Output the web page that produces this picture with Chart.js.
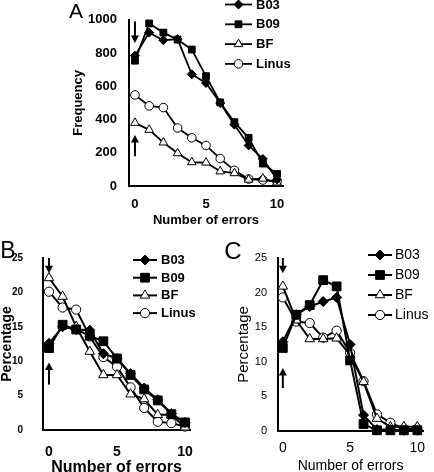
<!DOCTYPE html>
<html><head><meta charset="utf-8">
<script src="https://cdn.jsdelivr.net/npm/chart.js@4/dist/chart.umd.min.js"></script>
<style>
html,body{margin:0;padding:0;background:#fff;overflow:hidden;width:434px;height:472px;position:relative;}
canvas{position:absolute;}
</style></head><body>
<canvas id="ca"></canvas>
<canvas id="cb"></canvas>
<canvas id="cc"></canvas>
<script>
// ---- data ----
const errors = [0, 1, 2, 3, 4, 5, 6, 7, 8, 9, 10];
const seriesNames = ['B03', 'B09', 'BF', 'Linus'];
const xTickValues = [0, 5, 10];
const freqTicks = [0, 200, 400, 600, 800, 1000];
const pctTicks = [0, 5, 10, 15, 20, 25];

// Panel A: frequency
const freqB03 = [784, 923, 877, 884, 672, 620, 499, 369, 244, 163, 40];
const freqB09 = [754, 978, 923, 881, 821, 661, 503, 384, 290, 135, 73];
const freqBF = [380, 338, 262, 197, 143, 141, 88, 77, 38, 44, 21];
const freqLinus = [548, 482, 472, 349, 290, 244, 165, 94, 42, 36, 27];

// Panel B: percentage
const pctB_B03 = [12.6, 15.0, 14.6, 14.5, 11.1, 10.4, 8.2, 6.1, 4.4, 2.4, 1.1];
const pctB_B09 = [11.9, 15.3, 14.6, 13.7, 12.9, 10.4, 8.0, 5.9, 4.3, 2.3, 1.1];
const pctB_BF = [22.1, 19.4, 15.0, 11.4, 8.0, 8.0, 5.2, 4.5, 2.2, 2.2, 0.4];
const pctB_Linus = [20.1, 17.8, 17.5, 13.6, 10.6, 9.2, 6.2, 3.2, 1.2, 1.0, 0.5];

// Panel C: percentage
const pctC_B03 = [12.9, 16.8, 18.0, 18.7, 19.3, 12.5, 2.3, 0.2, 0.2, 0.1, 0.1];
const pctC_B09 = [12.0, 16.8, 18.2, 21.8, 20.9, 10.2, 1.0, 0.1, 0.1, 0.1, 0.1];
const pctC_BF = [20.9, 16.0, 13.3, 13.3, 13.4, 11.0, 7.1, 1.8, 0.6, 0.6, 0.6];
const pctC_Linus = [19.3, 15.8, 15.6, 13.5, 14.5, 11.3, 7.2, 2.4, 1.2, 0.3, 0.3];

// arrows: [from, to] in y-axis units, drawn at x = 0
const arrowsA = [[990, 860], [179, 307]];
const arrowsB = [[25, 22.8], [6.6, 9.8]];
const arrowsC = [[25, 22.8], [6.2, 9.1]];

// ---- styling ----
const FAM = "'Liberation Sans', Arial, Helvetica, sans-serif";
const seriesStyles = [
  {pointStyle: 'rectRot', fill: '#000'},
  {pointStyle: 'rect', fill: '#000'},
  {pointStyle: 'triangle', fill: '#fff'},
  {pointStyle: 'circle', fill: '#fff'}
];

function drawMarker(ctx, style, r, x, y) {
  ctx.beginPath();
  if (style === 'rectRot') {
    ctx.moveTo(x - r, y); ctx.lineTo(x, y - r); ctx.lineTo(x + r, y); ctx.lineTo(x, y + r); ctx.closePath();
  } else if (style === 'rect') {
    const s = Math.SQRT1_2 * r; ctx.rect(x - s, y - s, 2 * s, 2 * s);
  } else if (style === 'triangle') {
    let rad = 0;
    ctx.moveTo(x + Math.sin(rad) * r, y - Math.cos(rad) * r);
    rad += 2 * Math.PI / 3;
    ctx.lineTo(x + Math.sin(rad) * r, y - Math.cos(rad) * r);
    rad += 2 * Math.PI / 3;
    ctx.lineTo(x + Math.sin(rad) * r, y - Math.cos(rad) * r);
    ctx.closePath();
  } else {
    ctx.arc(x, y, r, 0, Math.PI * 2);
  }
  ctx.fill(); ctx.stroke();
}

function drawArrow(ctx, x, y0, y1) {
  const dir = y1 > y0 ? 1 : -1;
  const head = 7.5, hw = 4;
  ctx.strokeStyle = '#000'; ctx.fillStyle = '#000'; ctx.lineWidth = 2;
  ctx.beginPath(); ctx.moveTo(x, y0); ctx.lineTo(x, y1 - dir * head + dir); ctx.stroke();
  ctx.beginPath(); ctx.moveTo(x, y1); ctx.lineTo(x - hw, y1 - dir * head); ctx.lineTo(x + hw, y1 - dir * head); ctx.closePath(); ctx.fill();
}

const decorPlugin = {
  id: 'decor',
  afterDraw(chart, args, o) {
    const ctx = chart.ctx, xs = chart.scales.x, ys = chart.scales.y;
    ctx.save();
    ctx.fillStyle = '#000';
    ctx.font = o.letterFont; ctx.textAlign = 'center'; ctx.textBaseline = 'middle';
    ctx.fillText(o.letter, o.letterX, o.letterY);
    const ax = xs.getPixelForValue(0);
    o.arrows.forEach(a => drawArrow(ctx, ax, ys.getPixelForValue(a[0]), ys.getPixelForValue(a[1])));
    chart.data.datasets.forEach((ds, i) => {
      const y = o.legY + i * o.legGap;
      ctx.strokeStyle = '#000'; ctx.lineWidth = ds.borderWidth;
      ctx.beginPath(); ctx.moveTo(o.legX, y); ctx.lineTo(o.legX + o.legLen, y); ctx.stroke();
      ctx.lineWidth = 1; ctx.fillStyle = ds.pointBackgroundColor;
      drawMarker(ctx, ds.pointStyle, ds.pointRadius, o.legX + o.legLen / 2, y);
      ctx.fillStyle = '#000'; ctx.font = o.legFont; ctx.textAlign = 'left'; ctx.textBaseline = 'middle';
      ctx.fillText(ds.label, o.legX + o.legLen + o.legTextGap, y + 0.5);
    });
    ctx.restore();
  }
};

function makeChart(id, p) {
  const cv = document.getElementById(id);
  const W = p.canvas.w, H = p.canvas.h;
  cv.width = W; cv.height = H;
  cv.style.width = W + 'px'; cv.style.height = H + 'px';
  cv.style.left = p.canvas.x + 'px'; cv.style.top = p.canvas.y + 'px';
  const L = p.area.left - p.canvas.x, R = p.area.right - p.canvas.x;
  const T = p.area.top - p.canvas.y, B = p.area.bottom - p.canvas.y;
  const datasets = p.series.map((vals, i) => ({
    label: seriesNames[i],
    data: errors.map((e, j) => ({x: e, y: vals[j]})),
    borderColor: '#000', borderWidth: p.lineWidth,
    pointStyle: seriesStyles[i].pointStyle,
    pointRadius: p.radii[i], pointHoverRadius: p.radii[i],
    pointBackgroundColor: seriesStyles[i].fill, pointBorderColor: '#000', pointBorderWidth: 1,
    tension: 0, fill: false, clip: false
  }));
  return new Chart(cv, {
    type: 'line',
    data: {datasets},
    options: {
      responsive: false, animation: false, events: [],
      layout: {padding: {left: 0, top: T, right: W - R, bottom: 0}},
      plugins: {legend: {display: false}, tooltip: {enabled: false}, decor: p.decor},
      scales: {
        x: {
          type: 'linear', min: p.xmin, max: p.xmax,
          afterBuildTicks: s => { s.ticks = xTickValues.map(v => ({value: v})); },
          afterFit: s => { s.height = H - B; },
          grid: {display: false, drawTicks: false},
          border: {display: true, color: '#000', width: 2},
          ticks: {padding: p.xTickPad, color: '#000', font: p.xTickFont, maxRotation: 0, autoSkip: false,
                  callback: v => String(v)},
          title: {display: true, text: 'Number of errors', color: '#000', font: p.xTitleFont, padding: {top: 0, bottom: p.xTitlePadB}}
        },
        y: {
          type: 'linear', min: 0, max: p.ymax,
          afterBuildTicks: s => { s.ticks = p.yTicks.map(v => ({value: v})); },
          afterFit: s => { s.width = L; },
          grid: {display: false, drawTicks: false},
          border: {display: true, color: '#000', width: 2},
          ticks: {padding: p.yTickPad, color: '#000', font: p.yTickFont, autoSkip: false,
                  callback: v => String(v)},
          title: {display: true, text: p.yTitle, color: '#000', font: p.yTitleFont, padding: {top: p.yTitlePadT, bottom: 0}}
        }
      }
    },
    plugins: [decorPlugin]
  });
}

makeChart('ca', {
  canvas: {x: 0, y: 0, w: 300, h: 232},
  area: {left: 129, right: 283, top: 7, bottom: 186},
  xmin: -0.42, xmax: 10.42, ymax: 1000, yTicks: freqTicks,
  series: [freqB03, freqB09, freqBF, freqLinus],
  radii: [4.5, 4.8, 5, 4.3], lineWidth: 1.8,
  yTitle: 'Frequency',
  xTickFont: {family: FAM, size: 13, weight: 'bold'}, xTickPad: 11,
  yTickFont: {family: FAM, size: 13, weight: 'bold'}, yTickPad: 12,
  xTitleFont: {family: FAM, size: 13, weight: 'bold'}, xTitlePadB: 4.2,
  yTitleFont: {family: FAM, size: 13, weight: 'bold'}, yTitlePadT: 70.2,
  decor: {letter: 'A', letterX: 76, letterY: 12, letterFont: '21px ' + FAM, arrows: arrowsA,
          legX: 225, legLen: 27, legTextGap: 4, legY: 4.5, legGap: 19.8, legFont: 'bold 13px ' + FAM}
});

makeChart('cb', {
  canvas: {x: 0, y: 232, w: 215, h: 250},
  area: {left: 43, right: 190, top: 258, bottom: 430},
  xmin: -0.44, xmax: 10.37, ymax: 25, yTicks: pctTicks,
  series: [pctB_B03, pctB_B09, pctB_BF, pctB_Linus],
  radii: [5, 6.2, 5.5, 4.6], lineWidth: 2,
  yTitle: 'Percentage',
  xTickFont: {family: FAM, size: 14, weight: 'bold'}, xTickPad: 13.6,
  yTickFont: {family: FAM, size: 10, weight: 'bold'}, yTickPad: 20,
  xTitleFont: {family: FAM, size: 16, weight: 'bold'}, xTitlePadB: 4.4,
  yTitleFont: {family: FAM, size: 14, weight: 'bold'}, yTitlePadT: -1.5,
  decor: {letter: 'B', letterX: 8, letterY: 20, letterFont: '23px ' + FAM, arrows: arrowsB,
          legX: 133, legLen: 24, legTextGap: 4, legY: 28, legGap: 17.7, legFont: 'bold 13px ' + FAM}
});

makeChart('cc', {
  canvas: {x: 215, y: 232, w: 219, h: 250},
  area: {left: 278, right: 428, top: 258, bottom: 431},
  xmin: -0.36, xmax: 10.43, ymax: 25, yTicks: pctTicks,
  series: [pctC_B03, pctC_B09, pctC_BF, pctC_Linus],
  radii: [5, 6.2, 5.5, 4.6], lineWidth: 2,
  yTitle: 'Percentage',
  xTickFont: {family: FAM, size: 14}, xTickPad: 8.6,
  yTickFont: {family: FAM, size: 11}, yTickPad: 11,
  xTitleFont: {family: FAM, size: 14}, xTitlePadB: 7.6,
  yTitleFont: {family: FAM, size: 15}, yTitlePadT: 19.5,
  decor: {letter: 'C', letterX: 18, letterY: 20, letterFont: '24px ' + FAM, arrows: arrowsC,
          legX: 153, legLen: 24, legTextGap: 3, legY: 23, legGap: 20, legFont: '14px ' + FAM}
});
</script>
</body></html>
